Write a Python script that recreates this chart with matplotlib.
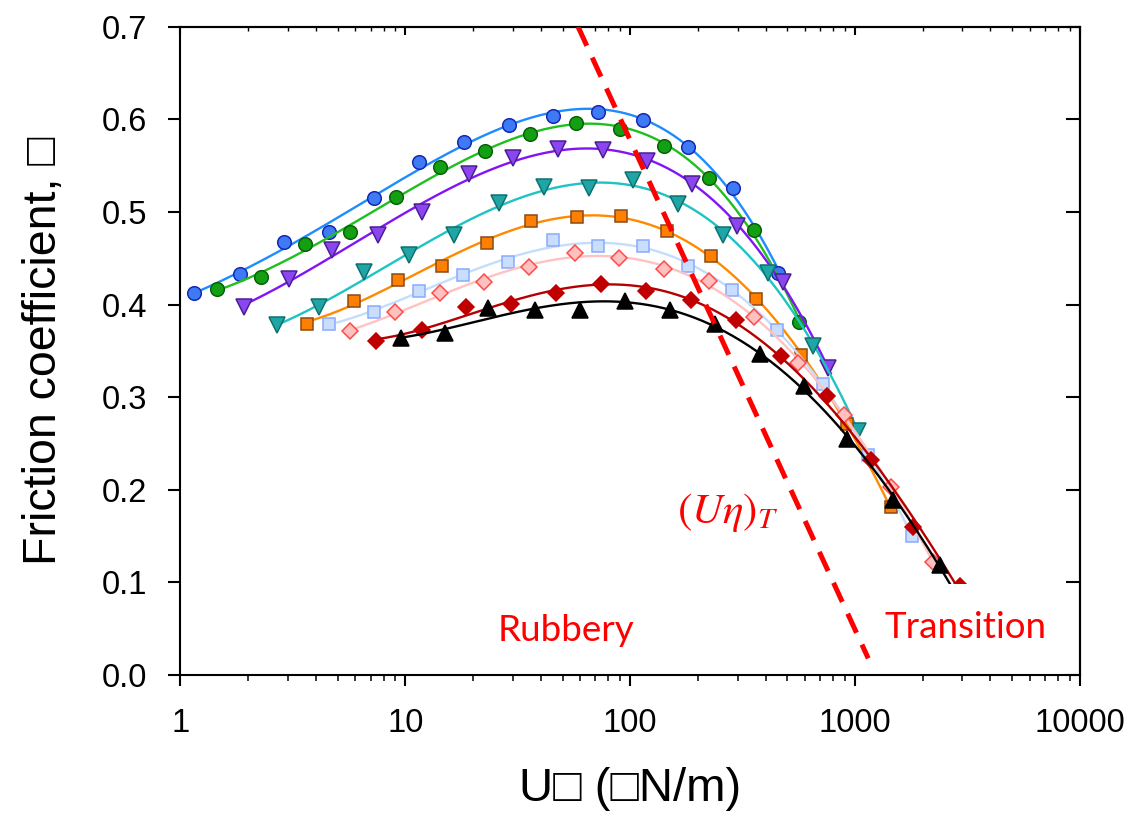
import numpy as np
import matplotlib
matplotlib.use("Agg")
import matplotlib.pyplot as plt
from matplotlib.ticker import LogLocator, NullFormatter

plt.rcParams['font.family'] = ['Liberation Sans', 'DejaVu Sans']
plt.rcParams['mathtext.fontset'] = 'stix'

# ---------------- data ----------------
blue_x = [1.15, 1.84, 2.89, 4.57, 7.25, 11.5, 18.2, 28.8, 45.5, 72.1, 114, 181, 287, 455]
blue_y = [0.413, 0.433, 0.468, 0.478, 0.515, 0.554, 0.575, 0.594, 0.604, 0.608, 0.599, 0.570, 0.526, 0.434]

green_x = [1.46, 2.27, 3.59, 5.69, 9.05, 14.3, 22.7, 35.7, 57.2, 90, 142, 224, 356, 564]
green_y = [0.417, 0.430, 0.465, 0.478, 0.516, 0.548, 0.566, 0.584, 0.596, 0.589, 0.571, 0.537, 0.480, 0.381]

purple_x = [1.92, 3.03, 4.73, 7.53, 11.9, 19.1, 30.1, 47.5, 75.4, 119, 189, 298, 479, 757]
purple_y = [0.397, 0.428, 0.459, 0.475, 0.500, 0.541, 0.558, 0.568, 0.567, 0.555, 0.530, 0.485, 0.424, 0.331]

teal_x = [2.69, 4.14, 6.53, 10.4, 16.4, 26.1, 41.2, 65.3, 103, 163, 259, 410, 651, 1032]
teal_y = [0.378, 0.397, 0.435, 0.453, 0.475, 0.510, 0.527, 0.526, 0.535, 0.509, 0.475, 0.434, 0.355, 0.264]

orange_x = [3.66, 5.89, 9.24, 14.6, 23.0, 36.2, 57.8, 91.4, 145, 229, 363, 576, 916, 1438]
orange_y = [0.379, 0.404, 0.427, 0.442, 0.466, 0.490, 0.495, 0.496, 0.479, 0.452, 0.406, 0.346, 0.271, 0.181]

lightblue_x = [4.58, 7.23, 11.5, 18.0, 28.7, 45.2, 71.7, 114, 180, 284, 450, 717, 1143, 1794]
lightblue_y = [0.379, 0.392, 0.415, 0.432, 0.446, 0.470, 0.463, 0.463, 0.442, 0.416, 0.372, 0.314, 0.238, 0.150]

pink_x = [5.65, 8.99, 14.3, 22.4, 35.6, 56.8, 89.4, 142, 225, 355, 558, 895, 1443, 2218]
pink_y = [0.371, 0.392, 0.412, 0.424, 0.441, 0.456, 0.450, 0.438, 0.425, 0.387, 0.337, 0.281, 0.203, 0.122]

darkred_x = [7.40, 11.9, 18.7, 29.5, 46.7, 74.1, 117, 186, 295, 467, 747, 1175, 1812, 2924]
darkred_y = [0.361, 0.372, 0.397, 0.401, 0.412, 0.422, 0.415, 0.405, 0.383, 0.344, 0.301, 0.232, 0.160, 0.096]

black_x = [9.59, 15.0, 23.4, 37.7, 59.8, 95.2, 150, 238, 377, 594, 922, 1476, 2383]
black_y = [0.364, 0.369, 0.396, 0.394, 0.394, 0.404, 0.394, 0.379, 0.347, 0.312, 0.255, 0.189, 0.119]

# extent of each fitted curve (x start, x end)
curve_ranges = [(1.15, 470), (1.46, 580), (1.9, 780), (2.69, 1040), (3.66, 1440),
                (4.78, 1845), (5.77, 2216), (7.6, 3000), (9.6, 3400)]

# (U eta)_T boundary line
dash_x = [58.6, 1144]
dash_y = [0.70, 0.018]

xtick_vals = [1, 10, 100, 1000, 10000]
xtick_labels = ['1', '10', '100', '1000', '10000']
ytick_vals = [0.0, 0.1, 0.2, 0.3, 0.4, 0.5, 0.6, 0.7]
ytick_labels = ['0.0', '0.1', '0.2', '0.3', '0.4', '0.5', '0.6', '0.7']

# ---------------- styles ----------------
series = [
    (blue_x, blue_y, dict(line='#1e8cff', marker='o', ms=9.8, fc='#3f7af5', ec='#1428b4')),
    (green_x, green_y, dict(line='#1fbf1f', marker='o', ms=9.8, fc='#12a012', ec='#0a5f0a')),
    (purple_x, purple_y, dict(line='#8214f5', marker='v', ms=11, fc='#8c46f0', ec='#4b1e96')),
    (teal_x, teal_y, dict(line='#1ec3c3', marker='v', ms=11, fc='#1fa5a5', ec='#0f7070')),
    (orange_x, orange_y, dict(line='#ff8a00', marker='s', ms=9, fc='#ff8000', ec='#8b4a14')),
    (lightblue_x, lightblue_y, dict(line='#c2defc', marker='s', ms=9, fc='#c8defc', ec='#8aaaff')),
    (pink_x, pink_y, dict(line='#ffc2c2', marker='D', ms=8.4, fc='#ffc0c0', ec='#ff4a4a')),
    (darkred_x, darkred_y, dict(line='#b40000', marker='D', ms=8.4, fc='#c00000', ec='#c00000')),
    (black_x, black_y, dict(line='#000000', marker='^', ms=11, fc='#000000', ec='#000000')),
]

fig = plt.figure(figsize=(11.33, 8.21), dpi=100)
ax = fig.add_axes([0.1593, 0.1778, 0.7939, 0.7897])

for (xs, ys, st), (x0, x1) in zip(series, curve_ranges):
    lx = np.log10(xs)
    coef = np.polyfit(lx, ys, 4)
    cx = np.linspace(np.log10(x0), np.log10(x1), 300)
    ax.plot(10 ** cx, np.polyval(coef, cx), color=st['line'], lw=1.7, zorder=2)
    ax.plot(xs, ys, ls='none', marker=st['marker'], ms=st['ms'],
            mfc=st['fc'], mec=st['ec'], mew=1.1, zorder=2)

ax.plot(dash_x, dash_y, color='#ff0000', lw=3.6, dashes=(4.2, 2.6), zorder=5)

ax.set_xscale('log')
ax.set_xlim(1, 10000)
ax.set_ylim(0, 0.7)
ax.set_xticks(xtick_vals)
ax.set_xticklabels(xtick_labels)
ax.xaxis.set_minor_locator(LogLocator(base=10, subs=np.arange(2, 10)))
ax.xaxis.set_minor_formatter(NullFormatter())
ax.set_yticks(ytick_vals)
ax.set_yticklabels(ytick_labels)

ax.tick_params(axis='x', which='major', direction='out', length=8, width=1.5,
               labelsize=23.5, pad=16, top=False)
ax.tick_params(axis='x', which='minor', direction='out', length=4, width=1.1, top=False)
ax.tick_params(axis='y', which='major', direction='out', length=9, width=1.5,
               labelsize=23.5, pad=15, right=False)
for s in ax.spines.values():
    s.set_linewidth(1.5)

secy = ax.secondary_yaxis('right')
secy.set_yticks(ytick_vals)
secy.yaxis.set_major_formatter(NullFormatter())
secy.tick_params(direction='in', length=10, width=1.5)
secy.spines['right'].set_linewidth(1.5)

secx = ax.secondary_xaxis('top')
secx.set_xticks(xtick_vals)
secx.xaxis.set_major_formatter(NullFormatter())
secx.xaxis.set_minor_locator(LogLocator(base=10, subs=np.arange(2, 10)))
secx.xaxis.set_minor_formatter(NullFormatter())
secx.tick_params(which='major', direction='in', length=6, width=1.5)
secx.tick_params(which='minor', direction='in', length=3, width=1.0)
secx.spines['top'].set_linewidth(1.5)

ax.set_xlabel('U\u25a1 (\u25a1N/m)', fontsize=34, labelpad=20)
ax.set_ylabel('Friction coefficient, \u25a1', fontsize=33.5, labelpad=26)

ax.text(272, 0.176, r'$(U\eta)_T$', color='#ff0000', fontsize=31,
        ha='center', va='center', zorder=4)
ax.text(51.8, 0.0486, 'Rubbery', color='#ff0000', fontsize=26.5, family=['Lato', 'DejaVu Sans'],
        ha='center', va='center', zorder=4)
ax.text(3110, 0.0508, 'Transition', color='#ff0000', fontsize=26.5, family=['Lato', 'DejaVu Sans'],
        ha='center', va='center', zorder=4,
        bbox=dict(facecolor='white', edgecolor='none', boxstyle='square,pad=0.75'))

fig.savefig('out.png', dpi=100)
